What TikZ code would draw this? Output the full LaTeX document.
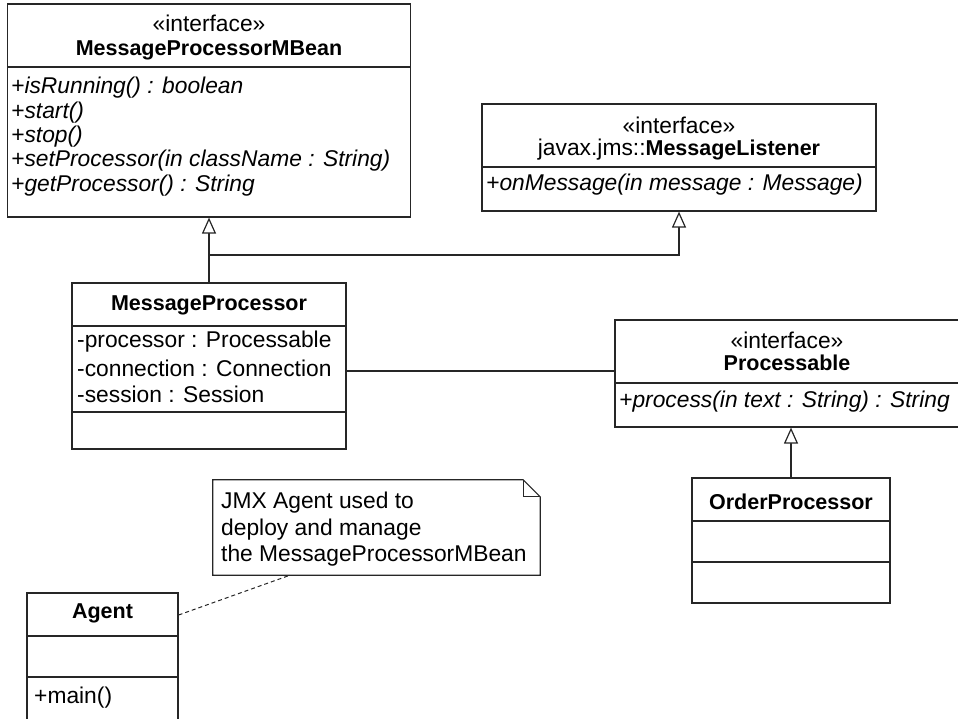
\documentclass[tikz,border=0pt]{standalone}
\usepackage{fontspec}
\setmainfont{Liberation Sans}
\usetikzlibrary{arrows.meta}
\newcommand{\clsname}[1]{{\fontsize{21.5}{25}\selectfont\bfseries #1}}
\tikzset{
  ln/.style={line width=1.2pt, draw=black!85},
  box/.style={ln, rectangle, inner sep=0pt, fill=white},
  txt/.style={inner sep=0pt, font=\fontsize{22.8}{25}\selectfont, anchor=west},
  ctr/.style={inner sep=0pt, font=\fontsize{22.8}{25}\selectfont, anchor=center},
  gen/.style={ln, -{Triangle[open, fill=white, length=16pt, width=14pt]}},
  assoc/.style={ln},
  notelink/.style={line width=1pt, draw=black!85, dash pattern=on 4pt off 3pt},
}
\begin{document}
\begin{tikzpicture}[x=1pt,y=-1pt]
\useasboundingbox (0,0) rectangle (958,718);
% class boxes
\node[box, minimum width=403pt, minimum height=213pt] (mbean) at (209,110.5) {};
\node[box, minimum width=394pt, minimum height=107pt] (lst) at (679,157.5) {};
\node[box, minimum width=274pt, minimum height=166pt] (mp) at (209,366) {};
\node[box, minimum width=344pt, minimum height=107pt] (proc) at (787,373.5) {};
\node[box, minimum width=198pt, minimum height=125pt] (order) at (791,540.5) {};
\node[box, minimum width=151pt, minimum height=129pt] (agent) at (102.5,657.5) {};
% note
\node[inner sep=0pt, minimum width=327pt, minimum height=95pt] (note) at (376.5,527.5) {};
\draw[ln] (note.north west) -- ([xshift=-17pt]note.north east) -- ([yshift=-17pt]note.north east) -- (note.south east) -- (note.south west) -- cycle;
\draw[ln] ([xshift=-17pt]note.north east) -- ([xshift=-17pt,yshift=-17pt]note.north east) -- ([yshift=-17pt]note.north east);
% dividers
\coordinate (d1) at (0,67);
\draw[ln] (mbean.west |- d1) -- (mbean.east |- d1);
\coordinate (d2) at (0,167);
\draw[ln] (lst.west |- d2) -- (lst.east |- d2);
\coordinate (d3) at (0,326);
\coordinate (d4) at (0,412);
\draw[ln] (mp.west |- d3) -- (mp.east |- d3);
\draw[ln] (mp.west |- d4) -- (mp.east |- d4);
\coordinate (d5) at (0,383);
\draw[ln] (proc.west |- d5) -- (proc.east |- d5);
\coordinate (d6) at (0,521);
\coordinate (d7) at (0,562);
\draw[ln] (order.west |- d6) -- (order.east |- d6);
\draw[ln] (order.west |- d7) -- (order.east |- d7);
\coordinate (d8) at (0,636);
\coordinate (d9) at (0,677);
\draw[ln] (agent.west |- d8) -- (agent.east |- d8);
\draw[ln] (agent.west |- d9) -- (agent.east |- d9);
% texts: MBean
\node[ctr] (mbS) at (209,23) {«interface»};
\node[ctr] (mbN) at (209,50) {\clsname{MessageProcessorMBean}};
\node[txt] (mb1) at (11,88) {\itshape +isRunning() : boolean};
\node[txt] (mb2) at (11,112.5) {\itshape +start()};
\node[txt] (mb3) at (11,137) {\itshape +stop()};
\node[txt] (mb4) at (11,161) {\itshape +setProcessor(in className : String)};
\node[txt] (mb5) at (11,185.5) {\itshape +getProcessor() : String};
% Listener
\node[ctr] (lS) at (679,125) {«interface»};
\node[ctr] (lN) at (679,150) {javax.jms::\clsname{MessageListener}};
\node[txt] (l1) at (486,185) {\itshape +onMessage(in message : Message)};
% MessageProcessor
\node[ctr] (mpN) at (209,305) {\clsname{MessageProcessor}};
\node[txt] (mp1) at (77,342) {-processor : Processable};
\node[txt] (mp2) at (77,368) {-connection : Connection};
\node[txt] (mp3) at (77,394) {-session : Session};
% Processable
\node[ctr] (pS) at (787,340) {«interface»};
\node[ctr] (pN) at (787,363) {\clsname{Processable}};
\node[txt] (p1) at (619,402) {\itshape +process(in text : String) : String};
% OrderProcessor
\node[ctr] (oN) at (791,502) {\clsname{OrderProcessor}};
% Agent
\node[ctr] (aN) at (102.5,613) {\clsname{Agent}};
\node[txt] (a1) at (34,698) {+main()};
% note text
\node[txt] (n1) at (221,503) {JMX Agent used to};
\node[txt] (n2) at (221,530) {deploy and manage};
\node[txt] (n3) at (221,556) {the MessageProcessorMBean};
% connectors
\coordinate (jn) at (0,255);
\draw[gen] (mp.north) -- (mbean.south);
\draw[gen] (mp.north |- jn) -| (lst.south);
\coordinate (as) at (0,371);
\draw[assoc] (mp.east |- as) -- (proc.west |- as);
\draw[gen] (order.north) -- (order.north |- proc.south);
\coordinate (dl1) at (0,615);
\coordinate (dl2) at (290,0);
\draw[notelink] (agent.east |- dl1) -- (note.south -| dl2);
\end{tikzpicture}
\end{document}
